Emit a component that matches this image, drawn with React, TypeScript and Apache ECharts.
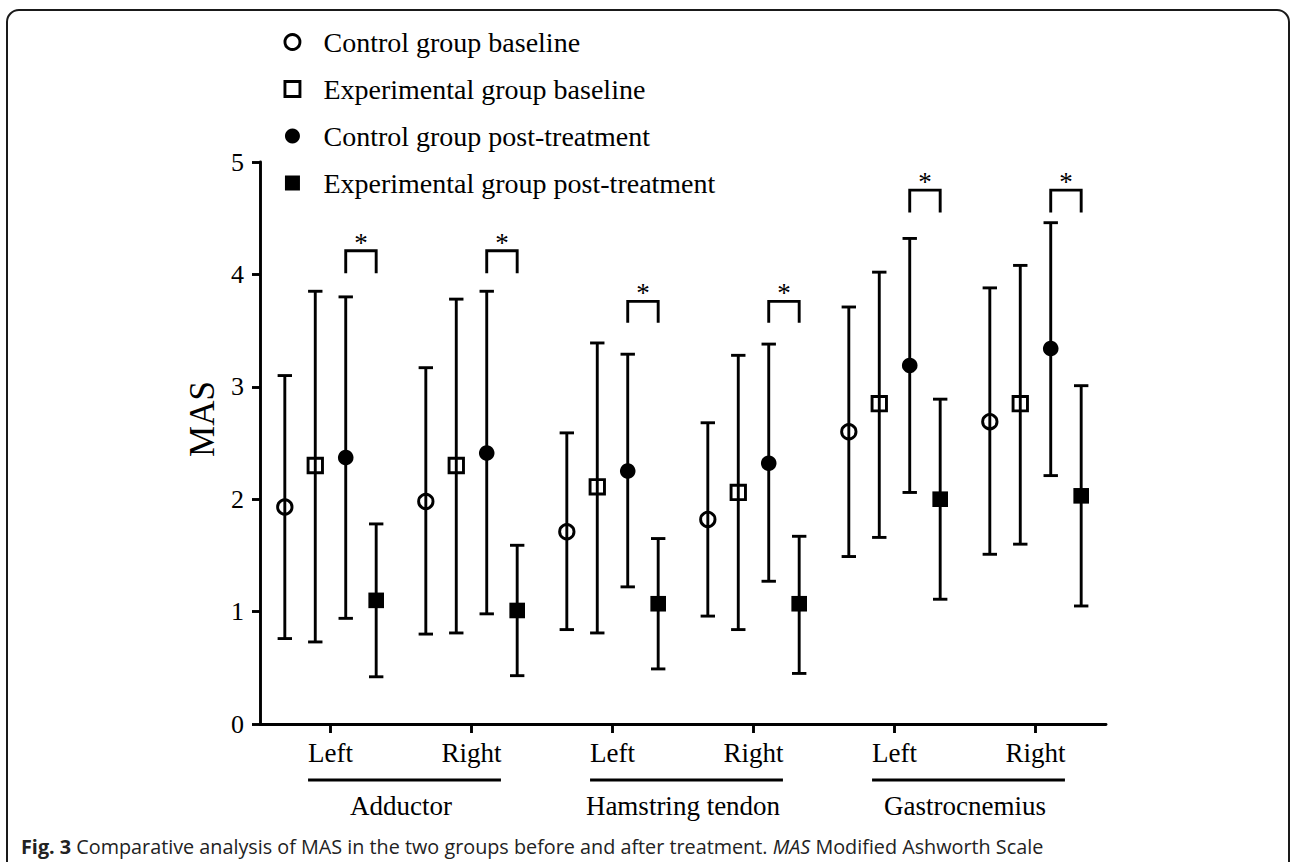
import React, { useEffect, useRef } from "react";
import * as echarts from "echarts";

// ---------- data ----------
const sideLabels = ["Left", "Right", "Left", "Right", "Left", "Right"];
const muscleGroups = ["Adductor", "Hamstring tendon", "Gastrocnemius"];
const seriesNames = [
  "Control group baseline",
  "Experimental group baseline",
  "Control group post-treatment",
  "Experimental group post-treatment",
];
const yTickValues = [0, 1, 2, 3, 4, 5];

const controlBaselineMean = [1.93, 1.98, 1.71, 1.82, 2.6, 2.69];
const controlBaselineLow = [0.76, 0.8, 0.84, 0.96, 1.49, 1.51];
const controlBaselineHigh = [3.1, 3.17, 2.59, 2.68, 3.71, 3.88];

const expBaselineMean = [2.3, 2.3, 2.11, 2.06, 2.85, 2.85];
const expBaselineLow = [0.73, 0.81, 0.81, 0.84, 1.66, 1.6];
const expBaselineHigh = [3.85, 3.78, 3.39, 3.28, 4.02, 4.08];

const controlPostMean = [2.37, 2.41, 2.25, 2.32, 3.19, 3.34];
const controlPostLow = [0.94, 0.98, 1.22, 1.27, 2.06, 2.21];
const controlPostHigh = [3.8, 3.85, 3.29, 3.38, 4.32, 4.46];

const expPostMean = [1.1, 1.01, 1.07, 1.07, 2.0, 2.03];
const expPostLow = [0.42, 0.43, 0.49, 0.45, 1.11, 1.05];
const expPostHigh = [1.78, 1.59, 1.65, 1.67, 2.89, 3.01];

// significance brackets (between control and experimental post-treatment)
const bracketTop = [4.21, 4.21, 3.76, 3.76, 4.75, 4.75];
const bracketBottom = [4.01, 4.01, 3.57, 3.57, 4.55, 4.55];
const bracketMark = ["*", "*", "*", "*", "*", "*"];

// ---------- style constants ----------
const SERIF = "'Liberation Serif', 'Times New Roman', serif";
const SANS = "'Open Sans', 'Noto Sans', sans-serif";
const LW = 2.9;
const SERIES_OFFSETS = [-1.5, -0.5, 0.5, 1.5];
const STEP_FRACTION = 0.216;
const CAP = 7.2;

type Marker = "hollowCircle" | "hollowSquare" | "filledCircle" | "filledSquare";

function markerShape(kind: Marker, x: number, y: number) {
  const stroke = { stroke: "#000", lineWidth: LW, fill: "none" };
  switch (kind) {
    case "hollowCircle":
      return { type: "circle", shape: { cx: x, cy: y, r: 7.2 }, style: stroke };
    case "hollowSquare":
      return { type: "rect", shape: { x: x - 7.2, y: y - 7.2, width: 14.4, height: 14.4 }, style: stroke };
    case "filledCircle":
      return { type: "circle", shape: { cx: x, cy: y, r: 7.8 }, style: { fill: "#000" } };
    default:
      return { type: "rect", shape: { x: x - 7.8, y: y - 7.8, width: 15.6, height: 15.6 }, style: { fill: "#000" } };
  }
}

function errorSeries(
  name: string,
  means: number[],
  lows: number[],
  highs: number[],
  offset: number,
  marker: Marker
) {
  return {
    type: "custom",
    name,
    xAxisIndex: 0,
    yAxisIndex: 0,
    clip: false,
    encode: { x: 0, y: [1, 2, 3] },
    data: means.map((m, i) => [i, m, lows[i], highs[i]]),
    renderItem: (params: any, api: any) => {
      const cat = api.value(0);
      const band = api.size([1, 0])[0];
      const x = api.coord([cat, 0])[0] + offset * band * STEP_FRACTION;
      const yM = api.coord([cat, api.value(1)])[1];
      const yL = api.coord([cat, api.value(2)])[1];
      const yH = api.coord([cat, api.value(3)])[1];
      const ls = { stroke: "#000", lineWidth: LW };
      return {
        type: "group",
        children: [
          { type: "line", shape: { x1: x, y1: yL, x2: x, y2: yH }, style: ls },
          { type: "line", shape: { x1: x - CAP, y1: yH, x2: x + CAP, y2: yH }, style: ls },
          { type: "line", shape: { x1: x - CAP, y1: yL, x2: x + CAP, y2: yL }, style: ls },
          markerShape(marker, x, yM),
        ],
      };
    },
  };
}

const bracketSeries = {
  type: "custom",
  xAxisIndex: 0,
  yAxisIndex: 0,
  clip: false,
  silent: true,
  encode: { x: 0, y: [1, 2] },
  data: bracketTop.map((t, i) => [i, t, bracketBottom[i]]),
  renderItem: (params: any, api: any) => {
    const cat = api.value(0);
    const band = api.size([1, 0])[0];
    const c = api.coord([cat, 0])[0];
    const xa = c + SERIES_OFFSETS[2] * band * STEP_FRACTION;
    const xb = c + SERIES_OFFSETS[3] * band * STEP_FRACTION;
    const yT = api.coord([cat, api.value(1)])[1];
    const yB = api.coord([cat, api.value(2)])[1];
    return {
      type: "group",
      children: [
        {
          type: "polyline",
          shape: { points: [[xa, yB], [xa, yT], [xb, yT], [xb, yB]] },
          style: { stroke: "#000", lineWidth: LW, fill: "none" },
        },
        {
          type: "text",
          x: (xa + xb) / 2,
          y: yT - 8,
          style: {
            text: bracketMark[params.dataIndex],
            fill: "#000",
            fontSize: 27,
            fontFamily: SERIF,
            align: "center",
            verticalAlign: "middle",
          },
        },
      ],
    };
  },
};

const underlineSeries = {
  type: "custom",
  xAxisIndex: 1,
  yAxisIndex: 0,
  clip: false,
  silent: true,
  encode: { x: 0, y: 1 },
  data: muscleGroups.map((_, i) => [i, 0]),
  renderItem: (params: any, api: any) => {
    const p = api.coord([api.value(0), 0]);
    const band = api.size([1, 0])[0];
    const half = band * 0.342;
    const cx = p[0] + 3.5;
    const y = p[1] + 56;
    return {
      type: "line",
      shape: { x1: cx - half, y1: y, x2: cx + half, y2: y },
      style: { stroke: "#000", lineWidth: 3 },
    };
  },
};

const markers: Marker[] = ["hollowCircle", "hollowSquare", "filledCircle", "filledSquare"];

const option: any = {
  animation: false,
  backgroundColor: "#fff",
  grid: { left: 260, right: 186, top: 162, bottom: 138 },
  legend: {
    orient: "vertical",
    left: 283.5,
    top: 28,
    padding: 0,
    itemGap: 19,
    itemWidth: 15,
    itemHeight: 15,
    selectedMode: false,
    textStyle: { fontFamily: SERIF, fontSize: 28, color: "#000", padding: [0, 0, 0, 18.5] },
    data: [
      { name: seriesNames[0], icon: "circle", itemStyle: { color: "rgba(0,0,0,0)", borderColor: "#000", borderWidth: LW } },
      { name: seriesNames[1], icon: "rect", itemStyle: { color: "rgba(0,0,0,0)", borderColor: "#000", borderWidth: LW } },
      { name: seriesNames[2], icon: "circle", itemStyle: { color: "#000", borderWidth: 0 } },
      { name: seriesNames[3], icon: "rect", itemStyle: { color: "#000", borderWidth: 0 } },
    ],
  },
  xAxis: [
    {
      type: "category",
      data: sideLabels,
      position: "bottom",
      axisLine: { show: true, lineStyle: { color: "#000", width: LW } },
      axisTick: { show: true, alignWithLabel: true, length: 9, lineStyle: { color: "#000", width: LW } },
      axisLabel: { fontFamily: SERIF, fontSize: 27, color: "#000", margin: 15 },
      splitLine: { show: false },
    },
    {
      type: "category",
      data: muscleGroups,
      position: "bottom",
      offset: 55,
      axisLine: { show: false },
      axisTick: { show: false },
      axisLabel: { fontFamily: SERIF, fontSize: 27, color: "#000", margin: 13 },
      splitLine: { show: false },
    },
  ],
  yAxis: {
    type: "value",
    min: yTickValues[0],
    max: yTickValues[yTickValues.length - 1],
    interval: 1,
    name: "MAS",
    nameLocation: "middle",
    nameGap: 33,
    nameTextStyle: { fontFamily: SERIF, fontSize: 35, color: "#000", padding: [0, 0, 0, 48] },
    axisLine: { show: true, lineStyle: { color: "#000", width: LW } },
    axisTick: { show: true, length: 8, lineStyle: { color: "#000", width: LW } },
    axisLabel: { fontFamily: SERIF, fontSize: 26, color: "#000", margin: 16 },
    splitLine: { show: false },
  },
  series: [
    errorSeries(seriesNames[0], controlBaselineMean, controlBaselineLow, controlBaselineHigh, SERIES_OFFSETS[0], markers[0]),
    errorSeries(seriesNames[1], expBaselineMean, expBaselineLow, expBaselineHigh, SERIES_OFFSETS[1], markers[1]),
    errorSeries(seriesNames[2], controlPostMean, controlPostLow, controlPostHigh, SERIES_OFFSETS[2], markers[2]),
    errorSeries(seriesNames[3], expPostMean, expPostLow, expPostHigh, SERIES_OFFSETS[3], markers[3]),
    bracketSeries,
    underlineSeries,
  ],
  graphic: [
    {
      type: "rect",
      shape: { x: 7, y: 10, width: 1282, height: 900, r: 12 },
      style: { fill: "none", stroke: "#1a1a1a", lineWidth: 2 },
      silent: true,
    },
    {
      type: "text",
      left: 21,
      top: 836,
      style: {
        text: "{b|Fig. 3} Comparative analysis of MAS in the two groups before and after treatment. {i|MAS} Modified Ashworth Scale",
        fontFamily: SANS,
        fontSize: 19.8,
        fill: "#222",
        rich: {
          b: { fontFamily: SANS, fontSize: 19.8, fontWeight: "bold", fill: "#222" },
          i: { fontFamily: SANS, fontSize: 19.8, fontStyle: "italic", fill: "#222" },
        },
      },
    },
  ],
};

export default function App() {
  const ref = useRef<HTMLDivElement>(null);
  useEffect(() => {
    document.body.style.margin = "0";
    const chart = echarts.init(ref.current!, null, { renderer: "svg" });
    chart.setOption(option);
    return () => chart.dispose();
  }, []);
  return <div ref={ref} style={{ width: 1292, height: 862 }} />;
}
